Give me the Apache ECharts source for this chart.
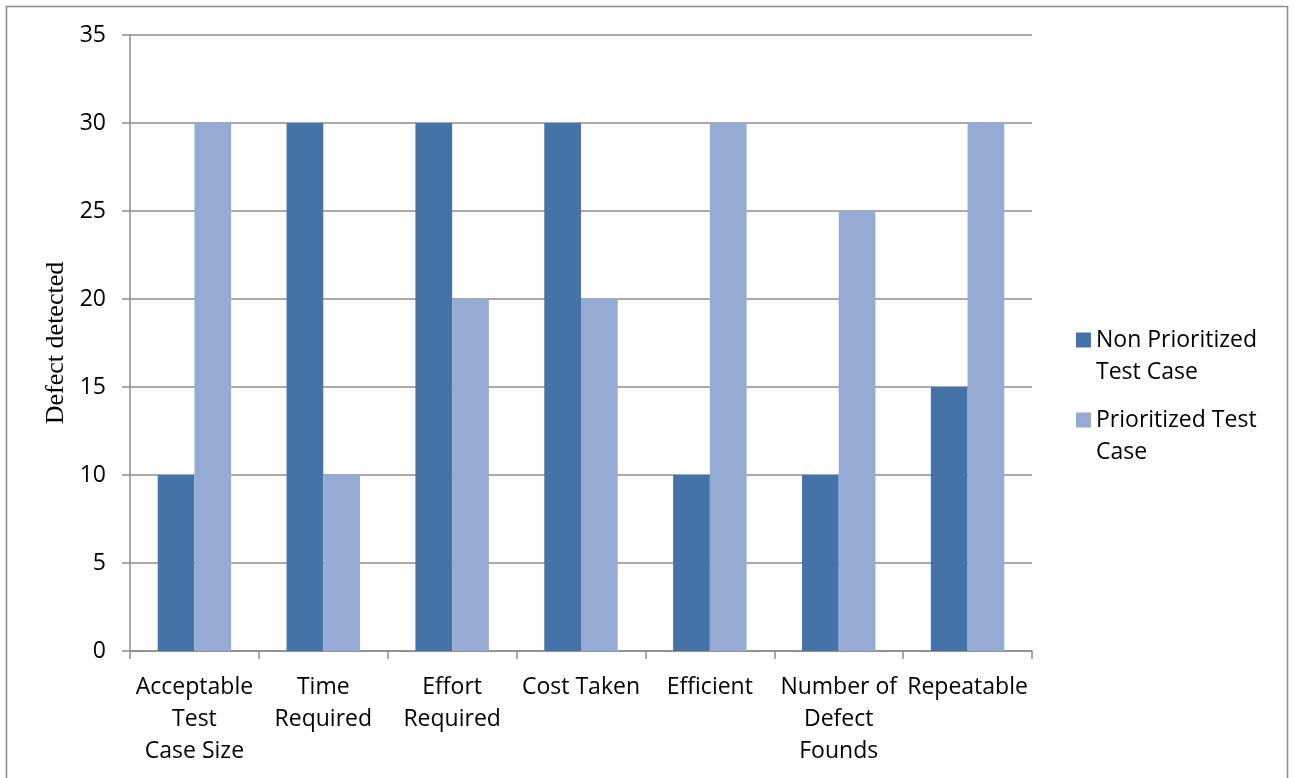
<!DOCTYPE html>
<html>
<head>
<meta charset="utf-8">
<script src="https://cdn.jsdelivr.net/npm/echarts@6/dist/echarts.min.js"></script>
<style>
  html, body { margin: 0; padding: 0; background: #fff; }
  #chart { width: 1294px; height: 778px; }
</style>
</head>
<body>
<div id="chart"></div>
<script>
// Categories along the x axis
const categories = [
  'Acceptable\nTest\nCase Size',
  'Time\nRequired',
  'Effort\nRequired',
  'Cost Taken',
  'Efficient',
  'Number of\nDefect\nFounds',
  'Repeatable'
];
// Series values
const nonPrioritized = [10, 30, 30, 30, 10, 10, 15];
const prioritized = [30, 10, 20, 20, 30, 25, 30];
// Series names
const seriesNames = ['Non Prioritized\nTest Case', 'Prioritized Test\nCase'];

const font = '"Open Sans", Lato, sans-serif';
const chart = echarts.init(document.getElementById('chart'), null, { renderer: 'canvas' });

chart.setOption({
  animation: false,
  backgroundColor: '#ffffff',
  graphic: [{
    type: 'rect',
    shape: { x: 6.5, y: 6.5, width: 1281, height: 790 },
    style: { fill: 'none', stroke: '#8c8c8c', lineWidth: 1.5 },
    silent: true
  }],
  grid: { left: 130, right: 262, top: 35, bottom: 127 },
  legend: {
    orient: 'vertical',
    left: 1076,
    top: 292,
    padding: 0,
    itemWidth: 15,
    itemHeight: 15,
    itemGap: -16,
    icon: 'rect',
    // a blank leading line keeps the marker level with the first text line
    formatter: name => '\n' + name,
    textStyle: {
      fontFamily: font,
      fontSize: 23,
      color: '#000',
      lineHeight: 32
    },
    data: seriesNames
  },
  xAxis: {
    type: 'category',
    data: categories,
    axisLine: { lineStyle: { color: '#8c8c8c', width: 1.5 } },
    axisTick: { show: true, length: 8, lineStyle: { color: '#8c8c8c', width: 1.5 } },
    axisLabel: {
      interval: 0,
      margin: 20,
      fontFamily: font,
      fontSize: 23,
      color: '#000',
      lineHeight: 32
    }
  },
  yAxis: {
    type: 'value',
    min: 0,
    max: 35,
    interval: 5,
    name: 'Defect detected',
    nameLocation: 'middle',
    nameGap: 58,
    nameTextStyle: { fontFamily: '"Liberation Serif", "DejaVu Serif", serif', fontSize: 26, color: '#000' },
    axisLine: { show: true, lineStyle: { color: '#8c8c8c', width: 1.5 } },
    axisTick: { show: true, length: 8, lineStyle: { color: '#8c8c8c', width: 1.5 } },
    axisLabel: { margin: 24, fontFamily: font, fontSize: 23, color: '#000' },
    splitLine: { show: true, lineStyle: { color: '#8c8c8c', width: 1.5 } }
  },
  series: [
    {
      name: seriesNames[0],
      type: 'bar',
      data: nonPrioritized,
      barGap: '0%',
      barCategoryGap: '43%',
      itemStyle: { color: '#4572a7' }
    },
    {
      name: seriesNames[1],
      type: 'bar',
      data: prioritized,
      barGap: '0%',
      barCategoryGap: '43%',
      itemStyle: { color: '#95abd3' }
    }
  ]
});
</script>
</body>
</html>
